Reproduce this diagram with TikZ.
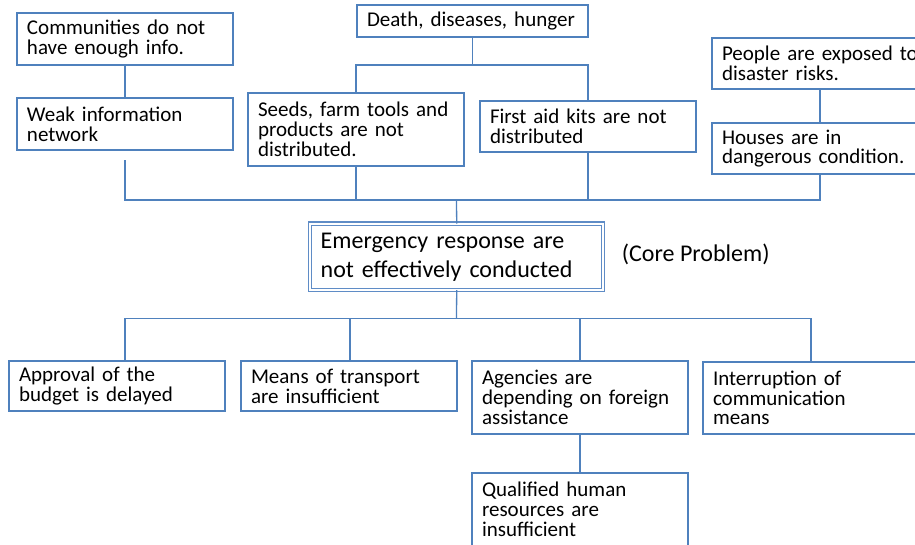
\documentclass[tikz,border=0pt]{standalone}
\usepackage{fontspec}
\setmainfont{Carlito}
\definecolor{lineblue}{HTML}{4F81BD}
\definecolor{coreblue}{HTML}{5F8CC6}
\tikzset{
  box/.style={draw=lineblue, line width=1.3pt, text width=196pt, inner xsep=10pt,
    inner ysep=0pt, align=left, anchor=north west, outer sep=0pt,
    font=\fontsize{21}{19.8}\selectfont},
  corebox/.style={draw=coreblue, line width=1.1pt, double=white, double distance=2pt,
    text width=272pt, inner xsep=10.5pt, inner ysep=0pt, align=left, anchor=north west,
    outer sep=0pt, minimum height=66.5pt, font=\fontsize{24}{29}\selectfont},
  conn/.style={draw=lineblue, line width=1.3pt},
  lbl/.style={anchor=base west, inner sep=0pt, font=\fontsize{24}{29}\selectfont}
}
\begin{document}
\begin{tikzpicture}[x=1pt,y=-1pt]
\useasboundingbox (0,0) rectangle (915,544);
\clip (0,0) rectangle (915,544);
% top nodes
\node[box, minimum height=52pt] (comm) at (17,13) {Communities do not\\have enough info.};
\node[box, minimum height=52pt] (weak) at (17,98) {Weak information\\network};
\node[box, minimum height=32pt, text width=211pt] (death) at (357,5) {\mbox{Death, diseases, hunger}};
\node[box, minimum height=73pt] (seeds) at (248,93) {\mbox{Seeds, farm tools and}\\products are not\\distributed.};
\node[box, minimum height=51pt] (aid) at (480,101) {\mbox{First aid kits are not}\\distributed};
\node[box, minimum height=51pt] (people) at (712,38) {\mbox{People are exposed to}\\disaster risks.};
\node[box, minimum height=51pt] (houses) at (712,123) {Houses are in\\\mbox{dangerous condition.}};
% core
\node[corebox] (core) at (310.2,223.5) {Emergency response are\\not effectively conducted};
\node[lbl] (corelbl) at (621.7,261.7) {(Core Problem)};
% bottom nodes
\node[box, minimum height=50pt] (appr) at (9,361) {Approval of the\\budget is delayed};
\node[box, minimum height=50pt] (means) at (241,361) {Means of transport\\are insufficient};
\node[box, minimum height=73pt] (agen) at (472,361) {Agencies are\\\mbox{depending on foreign}\\assistance};
\node[box, minimum height=72pt] (inter) at (703,362) {Interruption of\\communication\\means};
\node[box, minimum height=73pt] (qual) at (472,473) {Qualified human\\resources are\\insufficient};
% junction coordinates
\coordinate (tj) at (472.5,65);
\coordinate (ub) at (456.5,200);
\coordinate (lb) at (456.5,318.5);
% connectors
\draw[conn] (comm.south) -- (weak.north);
\draw[conn] (people.south) -- (houses.north);
\draw[conn] (death.south) -- (tj);
\draw[conn] (seeds.north) -- (seeds.north |- tj) -- (aid.north |- tj) -- (aid.north);
\draw[conn] ([yshift=-10pt]weak.south) -- (weak.south |- ub) -- (houses.south |- ub) -- (houses.south);
\draw[conn] (seeds.south) -- (seeds.south |- ub);
\draw[conn] (aid.south) -- (aid.south |- ub);
\draw[conn] (ub) -- (core.north);
\draw[conn] (core.south) -- (lb);
\draw[conn] ([xshift=8pt]appr.north) -- ([xshift=8pt]appr.north |- lb) -- (inter.north |- lb) -- (inter.north);
\draw[conn] ([xshift=1pt]means.north) -- ([xshift=1pt]means.north |- lb);
\draw[conn] (agen.north) -- (agen.north |- lb);
\draw[conn] (agen.south) -- (qual.north);
\end{tikzpicture}
\end{document}
